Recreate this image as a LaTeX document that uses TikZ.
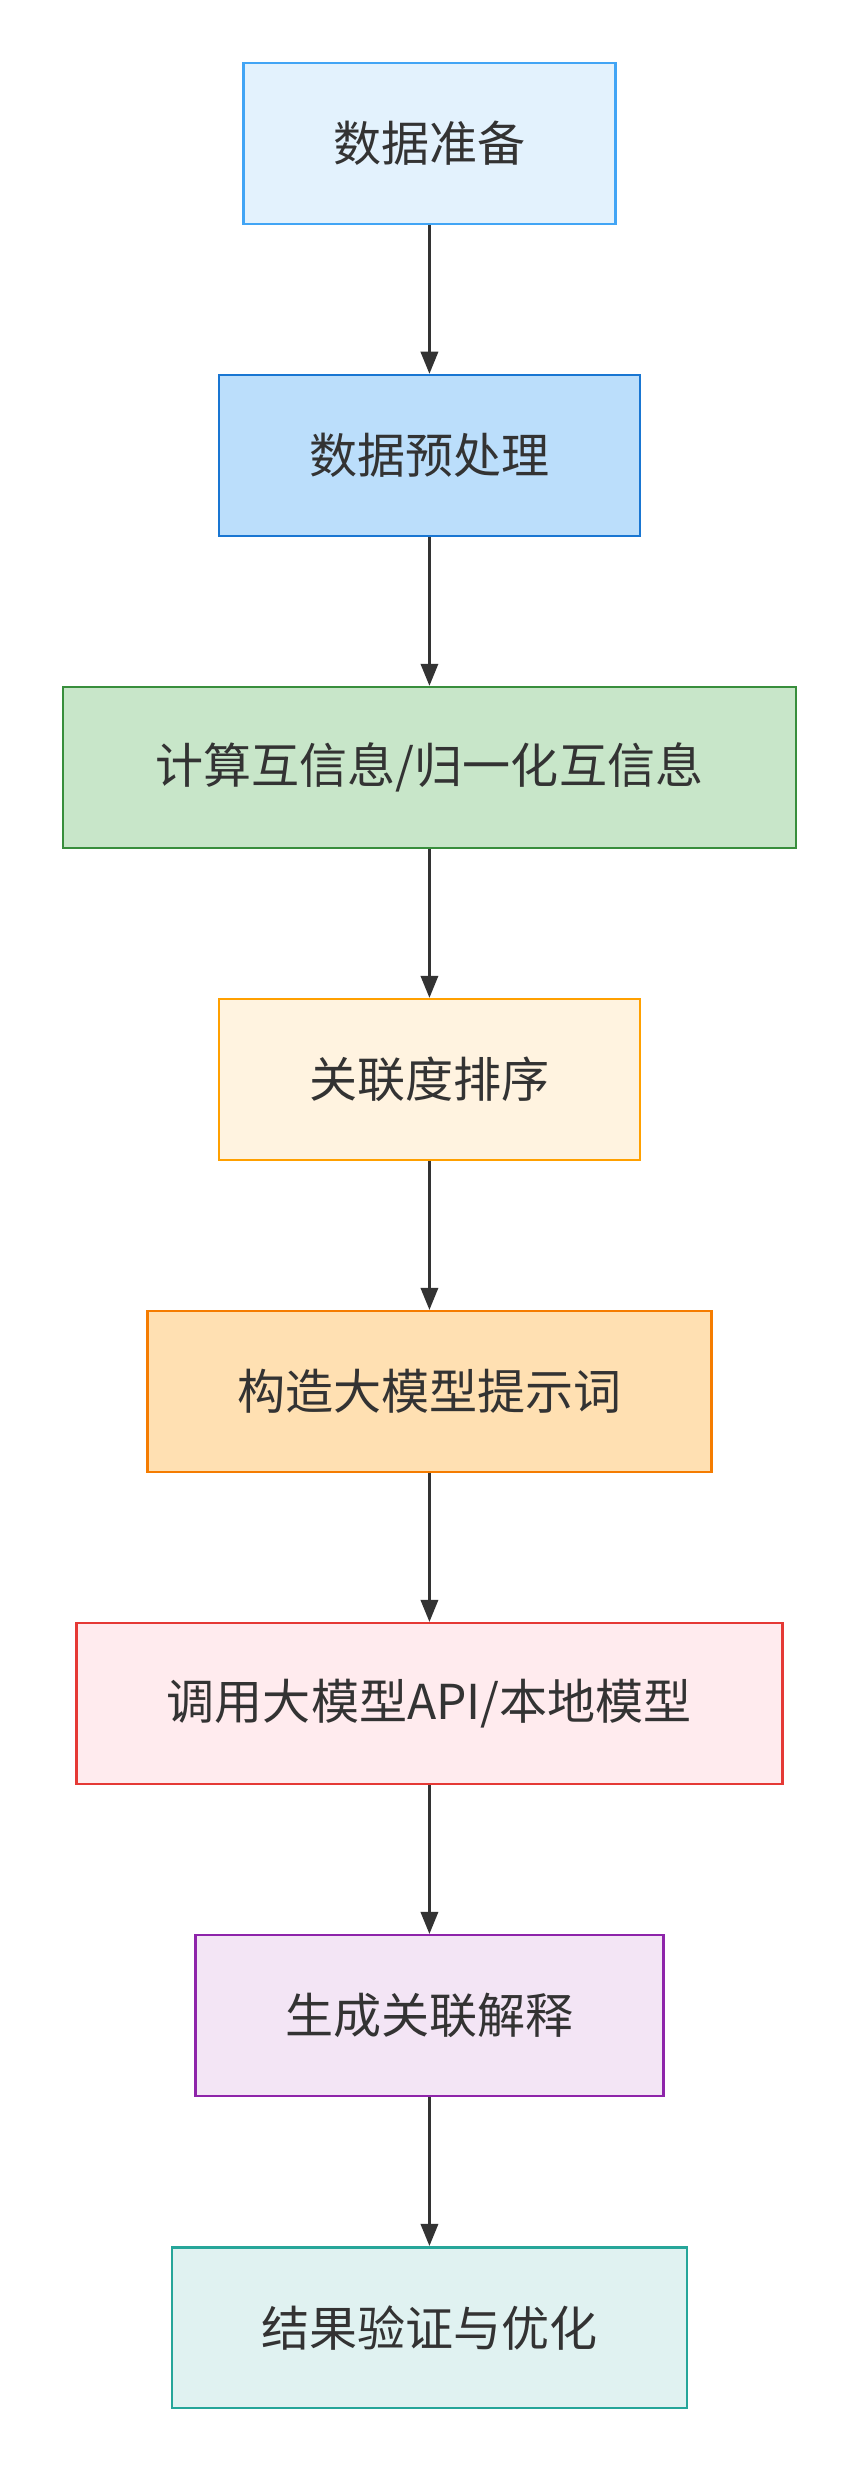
\documentclass[tikz,border=0pt]{standalone}
\usepackage{fontspec}
\newfontfamily\cjk{Noto Sans CJK SC}
\usetikzlibrary{arrows.meta}
\definecolor{arr}{HTML}{333333}
\tikzset{
  stage/.style={draw, line width=1.6pt, minimum height=102pt, font=\cjk\fontsize{30.5}{33}\selectfont, text=arr, inner sep=0pt},
  flow/.style={-{Triangle[length=14pt,width=11pt]}, line width=1.6pt, draw=arr},
}
\begin{document}
\begin{tikzpicture}[x=1pt,y=-1pt]
\useasboundingbox[fill=white] (0,0) rectangle (545,1568);
\node[stage, minimum width=236pt, fill={rgb,255:red,227;green,242;blue,253}, draw={rgb,255:red,66;green,165;blue,245}] (prep) at (272.5,91) {数据准备};
\node[stage, minimum width=267pt, fill={rgb,255:red,187;green,222;blue,251}, draw={rgb,255:red,25;green,118;blue,210}] (clean) at (272.5,289) {数据预处理};
\node[stage, minimum width=465pt, fill={rgb,255:red,200;green,230;blue,201}, draw={rgb,255:red,56;green,142;blue,60}] (mi) at (272.5,487) {计算互信息/归一化互信息};
\node[stage, minimum width=267pt, fill={rgb,255:red,255;green,243;blue,224}, draw={rgb,255:red,255;green,160;blue,0}] (rank) at (272.5,685) {关联度排序};
\node[stage, minimum width=358pt, fill={rgb,255:red,255;green,224;blue,178}, draw={rgb,255:red,245;green,124;blue,0}] (prompt) at (272.5,883) {构造大模型提示词};
\node[stage, minimum width=448pt, fill={rgb,255:red,255;green,235;blue,238}, draw={rgb,255:red,229;green,57;blue,53}] (llm) at (272.5,1081) {调用大模型API/本地模型};
\node[stage, minimum width=297pt, fill={rgb,255:red,243;green,229;blue,245}, draw={rgb,255:red,142;green,36;blue,170}] (expl) at (272.5,1279) {生成关联解释};
\node[stage, minimum width=327pt, fill={rgb,255:red,224;green,242;blue,241}, draw={rgb,255:red,38;green,166;blue,154}] (check) at (272.5,1477) {结果验证与优化};
\draw[flow] (prep) -- (clean);
\draw[flow] (clean) -- (mi);
\draw[flow] (mi) -- (rank);
\draw[flow] (rank) -- (prompt);
\draw[flow] (prompt) -- (llm);
\draw[flow] (llm) -- (expl);
\draw[flow] (expl) -- (check);
\end{tikzpicture}
\end{document}
